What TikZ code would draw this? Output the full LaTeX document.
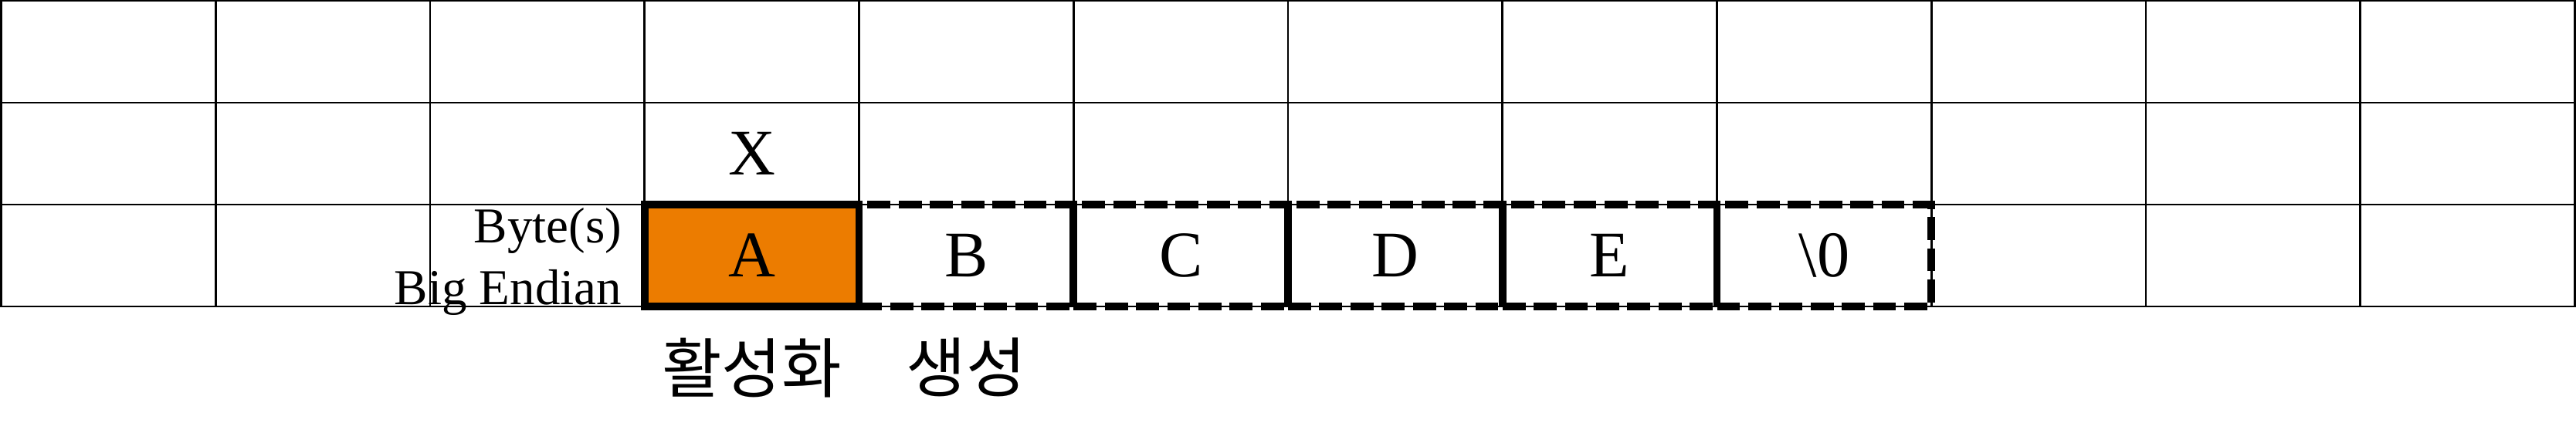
\documentclass[tikz,border=0pt]{standalone}
\usepackage{fontspec}
\setmainfont{Liberation Serif}
\newfontfamily\kofont{Noto Sans CJK KR}
\usepackage{tikz}
\usetikzlibrary{positioning}
\definecolor{byteorange}{HTML}{EC7C00}

\begin{document}
\begin{tikzpicture}[
    cell/.style={draw, line width=0.8pt, minimum width=2.7775cm, minimum height=1.32cm, inner sep=0pt, outer sep=0pt},
    bytebox/.style={cell, line width=2.8pt, font=\fontsize{24pt}{28pt}\selectfont},
    firstbyte/.style={bytebox, fill=byteorange},
    restbyte/.style={bytebox, dash pattern=on 8.5pt off 3pt},
    valtext/.style={font=\fontsize{24pt}{28pt}\selectfont, inner sep=0pt},
    endian/.style={align=right, font=\fontsize{18.5pt}{22.5pt}\selectfont, inner sep=0pt},
    kotext/.style={font=\kofont\fontsize{24pt}{28pt}\selectfont, inner sep=0pt},
]
\useasboundingbox (0,0) rectangle (33.36,5.70);
% grid
\foreach \r in {0,1,2}
  \foreach \c in {0,...,11}
    \node[cell] (g-\r-\c) at ({0.015+2.7775*(\c+0.5)}, {5.03-1.32*\r}) {};
% bytes
\foreach \n/\c/\t in {b/4/B, c/5/C, d/6/D, e/7/E, nul/8/\textbackslash 0}
  \node[restbyte] (\n) at (g-2-\c) {\t};
\node[firstbyte] (a) at (g-2-3) {A};
\node[valtext] (x) at (g-1-3) {X};
% labels
\node[endian, left=0.29cm of a, yshift=-0.08cm] (endian) {Byte(s)\\Big Endian};
\node[kotext, below=0.4cm of a] (act) {활성화};
\node[kotext, below=0.4cm of b] (gen) {생성};
\end{tikzpicture}
\end{document}
